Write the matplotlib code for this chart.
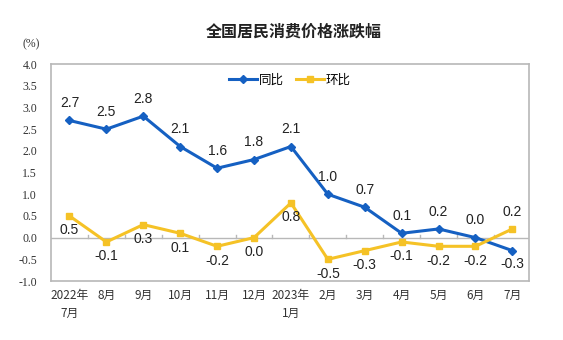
import matplotlib.pyplot as plt
import numpy as np

plt.rcParams['font.family'] = ['Liberation Sans', 'Noto Sans CJK SC', 'DejaVu Sans']

# monthly CPI change, Jul 2022 - Jul 2023
months = ['2022年\n7月', '8月', '9月', '10月', '11月', '12月', '2023年\n1月',
          '2月', '3月', '4月', '5月', '6月', '7月']
yoy = [2.7, 2.5, 2.8, 2.1, 1.6, 1.8, 2.1, 1.0, 0.7, 0.1, 0.2, 0.0, -0.3]
mom = [0.5, -0.1, 0.3, 0.1, -0.2, 0.0, 0.8, -0.5, -0.3, -0.1, -0.2, -0.2, 0.2]
y_ticks = [4.0, 3.5, 3.0, 2.5, 2.0, 1.5, 1.0, 0.5, 0.0, -0.5, -1.0]

blue = '#1560c2'
yellow = '#f5c226'
edge = '#b8b8b8'

fig = plt.figure(figsize=(5.63, 3.40), dpi=100)
ax = fig.add_axes([0.0906, 0.1735, 0.849, 0.638])
x = np.arange(len(months))

ax.plot(x, yoy, color=blue, lw=2.2, marker='D', ms=4.5, label='同比', zorder=3)
ax.plot(x, mom, color=yellow, lw=2.2, marker='s', ms=4.5, label='环比', zorder=3)

# zero line with small ticks between months
ax.axhline(0, color=edge, lw=1.0, zorder=1)
for b in np.arange(0.5, len(months) - 1, 1.0):
    ax.plot([b, b], [0, 0.07], color=edge, lw=1.0, zorder=1)

# value labels: year-on-year above, month-on-month below
for i, v in enumerate(yoy):
    dy = -0.3 if i == 12 else 0.4
    ax.text(i, v + dy, f'{v:.1f}', ha='center', va='center', fontsize=10, color='#222222')
for i, v in enumerate(mom):
    dy = 0.4 if i == 12 else -0.33
    ax.text(i, v + dy, f'{v:.1f}', ha='center', va='center', fontsize=10, color='#222222')

ax.set_xlim(-0.5, 12.45)
ax.set_ylim(-1.0, 4.0)
ax.set_xticks(x)
ax.set_xticklabels(months, family=['Noto Sans CJK SC'], fontsize=8.5, color='#333333',
                   linespacing=1.5)
ax.set_yticks(y_ticks)
ax.set_yticklabels([f'{t:.1f}' for t in y_ticks], family=['Liberation Serif'],
                   fontsize=8.5, color='#333333')
ax.tick_params(length=0, pad=10)
ax.tick_params(axis='x', pad=6)
for s in ax.spines.values():
    s.set_color(edge)
    s.set_linewidth(1.2)

ax.legend(loc='center', bbox_to_anchor=(0.5, 0.925), ncol=2, frameon=False,
          prop={'family': 'Noto Sans CJK SC', 'size': 9}, handlelength=2.2,
          columnspacing=1.0, handletextpad=0.15)

fig.text(0.522, 0.906, '全国居民消费价格涨跌幅', ha='center', va='center',
         family=['Noto Sans CJK SC'], fontsize=11.5, fontweight='bold', color='#222222')
fig.text(0.055, 0.87, '(%)', ha='center', va='center', family=['Liberation Serif'],
         fontsize=8.5, color='#333333')

fig.savefig('out.png', dpi=100, facecolor='white')
